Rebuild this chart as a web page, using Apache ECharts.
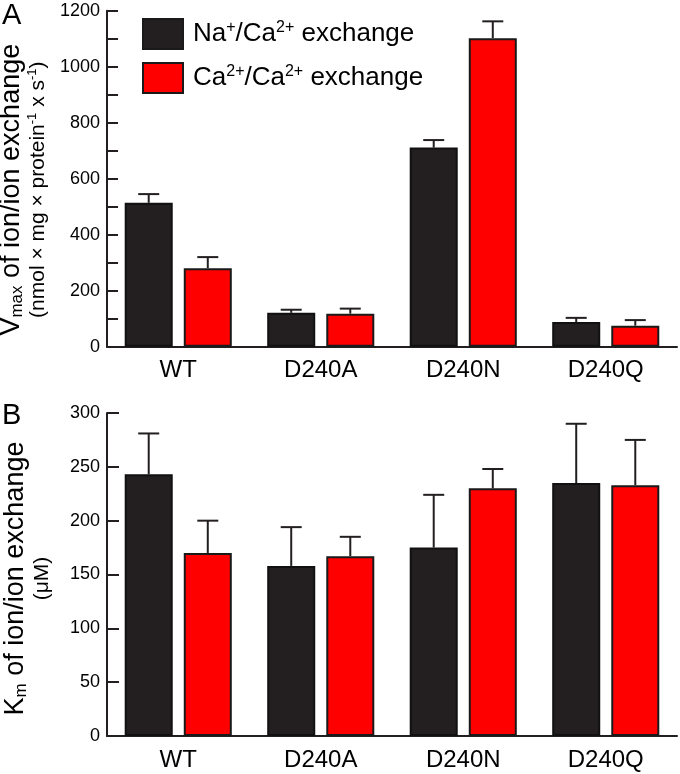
<!DOCTYPE html>
<html>
<head>
<meta charset="utf-8">
<script src="https://cdn.jsdelivr.net/npm/echarts@6/dist/echarts.min.js"></script>
<style>
  html, body { margin: 0; padding: 0; background: #fff; }
  #main { width: 680px; height: 774px; }
</style>
</head>
<body>
<div id="main"></div>
<script>
// categories
var mutants = ["WT", "D240A", "D240N", "D240Q"];

// panel A: Vmax (bar value, top of error bar)
var naVmax = [514, 121, 711, 88];
var naVmaxErr = [545, 132, 738, 103];
var caVmax = [280, 118, 1102, 75];
var caVmaxErr = [320, 136, 1162, 95];

// panel B: Km
var naKm = [243, 158, 175, 235];
var naKmErr = [281, 194, 224, 290];
var caKm = [170, 167, 230, 233];
var caKmErr = [200, 185, 248, 275];

var NA_NAME = "Na+/Ca2+ exchange";
var CA_NAME = "Ca2+/Ca2+ exchange";

var BLACK = "#231f20";
var RED = "#ff0000";
var BAR_W = 0.337;   // bar width / band
var BAR_GAP = 0.23;  // gap / bar width
var FONT = "Liberation Sans";

var chart = echarts.init(document.getElementById("main"));

// 误差线 (只画上半部分)
function errRender(side) {
  return function (params, api) {
    var i = api.value(0);
    var base = api.coord([i, api.value(1)]);
    var top = api.coord([i, api.value(2)]);
    var band = api.size([1, 0])[0];
    var bw = band * BAR_W;
    var x = base[0] + side * (bw + bw * BAR_GAP) / 2;
    var cap = 21;
    var st = { stroke: BLACK, lineWidth: 2 };
    return {
      type: "group",
      children: [
        { type: "line", shape: { x1: x, y1: base[1], x2: x, y2: top[1] }, style: st },
        { type: "line", shape: { x1: x - cap / 2, y1: top[1], x2: x + cap / 2, y2: top[1] }, style: st }
      ]
    };
  };
}

function errData(vals, tops) {
  return mutants.map(function (m, i) { return [i, vals[i], tops[i]]; });
}

var axisLineStyle = { lineStyle: { color: BLACK, width: 2 } };

var nameRich = {
  a: { fontSize: 27, fontFamily: FONT, color: "#000", lineHeight: 29 },
  sub: { fontSize: 17, fontFamily: FONT, color: "#000", lineHeight: 17, verticalAlign: "bottom" },
  b: { fontSize: 21, fontFamily: FONT, color: "#000", lineHeight: 25 },
  sup: { fontSize: 13, fontFamily: FONT, color: "#000", lineHeight: 13, verticalAlign: "top" }
};

function xAxisCfg(gi) {
  return {
    type: "category",
    gridIndex: gi,
    data: mutants,
    axisLine: axisLineStyle,
    axisTick: { show: false },
    axisLabel: { color: "#000", fontSize: 24, fontFamily: FONT, margin: 12 },
    splitLine: { show: false }
  };
}

function plain(v) { return String(v); }

chart.setOption({
  backgroundColor: "#fff",
  animation: false,
  title: [
    { text: "A", left: 2, top: 1, padding: 0, textStyle: { fontSize: 29, fontWeight: "normal", color: "#000", fontFamily: FONT } },
    { text: "B", left: 2, top: 401, padding: 0, textStyle: { fontSize: 29, fontWeight: "normal", color: "#000", fontFamily: FONT } }
  ],
  legend: {
    data: [NA_NAME, CA_NAME],
    orient: "vertical",
    left: 142,
    top: 18,
    padding: 0,
    itemWidth: 40,
    itemHeight: 30,
    itemGap: 12,
    icon: "rect",
    itemStyle: { borderColor: "#1a1a1a", borderWidth: 2 },
    formatter: function (name) {
      if (name === NA_NAME) return "{t|Na}{s|+}{t|/Ca}{s|2+}{t| exchange}";
      return "{t|Ca}{s|2+}{t|/Ca}{s|2+}{t| exchange}";
    },
    textStyle: {
      padding: [0, 0, 0, 5],
      rich: {
        t: { fontSize: 26, fontFamily: FONT, color: "#000", lineHeight: 28 },
        s: { fontSize: 16, fontFamily: FONT, color: "#000", lineHeight: 16, verticalAlign: "top" }
      }
    }
  },
  grid: [
    { left: 107, right: 3, top: 10.7, bottom: 427.3, outerBoundsMode: "none" },
    { left: 107, right: 3, top: 413, bottom: 38, outerBoundsMode: "none" }
  ],
  xAxis: [xAxisCfg(0), xAxisCfg(1)],
  yAxis: [
    {
      type: "value",
      gridIndex: 0,
      min: 0,
      max: 1200,
      interval: 200,
      axisLine: { show: true, lineStyle: { color: BLACK, width: 2 } },
      axisTick: { show: true, inside: true, length: 11, lineStyle: { color: BLACK, width: 2 } },
      minorTick: { show: true, splitNumber: 2, length: 11, lineStyle: { color: BLACK, width: 2 } },
      axisLabel: { color: "#000", fontSize: 18, fontFamily: FONT, margin: 7, formatter: plain },
      splitLine: { show: false },
      name: "{a|V}{sub|max}{a| of ion/ion exchange}\n{b|(nmol × mg × protein}{sup|-1}{b| x s}{sup|-1}{b|)}",
      nameLocation: "middle",
      nameRotate: 90,
      nameGap: 52,
      nameTextStyle: { rich: nameRich, align: "center", padding: [0, 22, 0, 0] }
    },
    {
      type: "value",
      gridIndex: 1,
      min: 0,
      max: 300,
      interval: 50,
      axisLine: { show: true, lineStyle: { color: BLACK, width: 2 } },
      axisTick: { show: true, inside: true, length: 12, lineStyle: { color: BLACK, width: 2 } },
      axisLabel: { color: "#000", fontSize: 18, fontFamily: FONT, margin: 7, formatter: plain },
      splitLine: { show: false },
      name: "{a|K}{sub|m}{a| of ion/ion exchange}\n{b|(μM)}",
      nameLocation: "middle",
      nameRotate: 90,
      nameGap: 52,
      nameTextStyle: { rich: nameRich, align: "center", padding: [0, 8, 0, 0] }
    }
  ],
  series: [
    {
      name: NA_NAME, type: "bar", xAxisIndex: 0, yAxisIndex: 0,
      data: naVmax, barWidth: (BAR_W * 100) + "%", barGap: (BAR_GAP * 100) + "%",
      itemStyle: { color: BLACK, borderColor: "#111", borderWidth: 2 }
    },
    {
      name: CA_NAME, type: "bar", xAxisIndex: 0, yAxisIndex: 0,
      data: caVmax, barWidth: (BAR_W * 100) + "%", barGap: (BAR_GAP * 100) + "%",
      itemStyle: { color: RED, borderColor: "#1a1a1a", borderWidth: 2 }
    },
    {
      name: NA_NAME, type: "bar", xAxisIndex: 1, yAxisIndex: 1,
      data: naKm, barWidth: (BAR_W * 100) + "%", barGap: (BAR_GAP * 100) + "%",
      itemStyle: { color: BLACK, borderColor: "#111", borderWidth: 2 }
    },
    {
      name: CA_NAME, type: "bar", xAxisIndex: 1, yAxisIndex: 1,
      data: caKm, barWidth: (BAR_W * 100) + "%", barGap: (BAR_GAP * 100) + "%",
      itemStyle: { color: RED, borderColor: "#1a1a1a", borderWidth: 2 }
    },
    { name: "errNaA", type: "custom", xAxisIndex: 0, yAxisIndex: 0, renderItem: errRender(-1), data: errData(naVmax, naVmaxErr), z: 1 },
    { name: "errCaA", type: "custom", xAxisIndex: 0, yAxisIndex: 0, renderItem: errRender(1), data: errData(caVmax, caVmaxErr), z: 1 },
    { name: "errNaB", type: "custom", xAxisIndex: 1, yAxisIndex: 1, renderItem: errRender(-1), data: errData(naKm, naKmErr), z: 1 },
    { name: "errCaB", type: "custom", xAxisIndex: 1, yAxisIndex: 1, renderItem: errRender(1), data: errData(caKm, caKmErr), z: 1 }
  ]
});
</script>
</body>
</html>
